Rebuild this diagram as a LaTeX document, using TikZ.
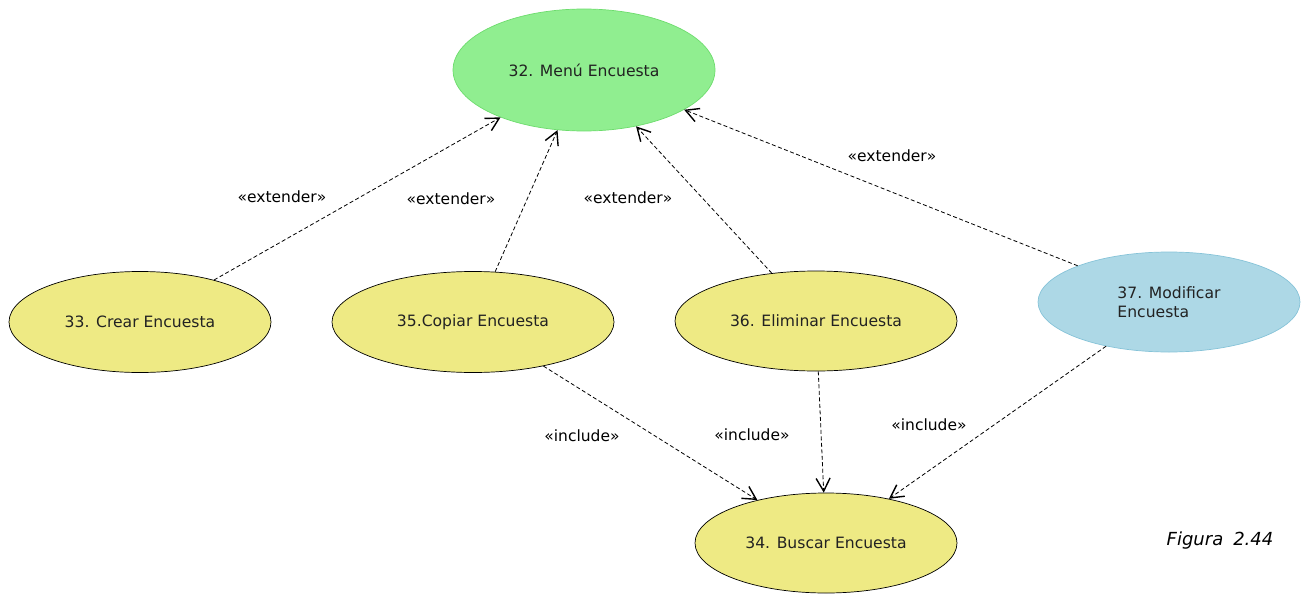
\documentclass[tikz,border=0pt]{standalone}
\usepackage{fontspec}
\setmainfont{DejaVu Sans}
\usetikzlibrary{shapes.geometric,arrows.meta}
\definecolor{ucyellow}{HTML}{EEEA84}
\definecolor{ucgreen}{HTML}{90EE90}
\definecolor{ucgreenb}{HTML}{6DDC6D}
\definecolor{ucblue}{HTML}{ADD8E6}
\definecolor{ucblueb}{HTML}{86C3D8}
\definecolor{txt}{HTML}{222222}
\tikzset{
  uc/.style={ellipse, draw=black, line width=0.7pt, fill=ucyellow, inner sep=0pt, text=txt, font=\fontsize{15.6}{19}\selectfont},
  dep/.style={dashed, dash pattern=on 4pt off 2.5pt, line width=0.8pt, -{Straight Barb[length=13pt,width=14pt,line width=1.4pt]}},
  lbl/.style={font=\fontsize{15.5}{18}\selectfont, text=black, inner sep=0pt}
}
\begin{document}
\begin{tikzpicture}[x=1pt,y=-1pt]
\useasboundingbox (0,0) rectangle (1303,594);
\node[uc, fill=ucgreen, draw=ucgreenb, minimum width=262pt, minimum height=122pt] (m32) at (584,70) {32. Menú Encuesta};
\node[uc, minimum width=262pt, minimum height=101pt] (c33) at (140,322) {33. Crear Encuesta};
\node[uc, minimum width=282pt, minimum height=101pt] (c35) at (473,322) {35.Copiar Encuesta};
\node[uc, minimum width=282pt, minimum height=100pt] (c36) at (816,321) {36. Eliminar Encuesta};
\node[uc, fill=ucblue, draw=ucblueb, minimum width=262pt, minimum height=100pt, align=left] (c37) at (1169,302) {37. Modificar\\Encuesta};
\node[uc, minimum width=262pt, minimum height=100pt] (c34) at (826,543) {34. Buscar Encuesta};
\draw[dep] (c33) -- (m32);
\draw[dep] (c35) -- (m32);
\draw[dep] (c36) -- (m32);
\draw[dep] (c37) -- (m32);
\draw[dep] (c35) -- (c34);
\draw[dep] (c36) -- (c34);
\draw[dep] (c37) -- (c34);
\node[lbl] (e1) at (282,197) {«extender»};
\node[lbl] (e2) at (451,199) {«extender»};
\node[lbl] (e3) at (628,198) {«extender»};
\node[lbl] (e4) at (892,156) {«extender»};
\node[lbl] (i1) at (582,436) {«include»};
\node[lbl] (i2) at (752,435) {«include»};
\node[lbl] (i3) at (929,425) {«include»};
\node[lbl, font=\fontsize{18}{21}\selectfont\itshape] (fig) at (1220,541) {Figura\hspace{10pt}2.44};
\end{tikzpicture}
\end{document}
